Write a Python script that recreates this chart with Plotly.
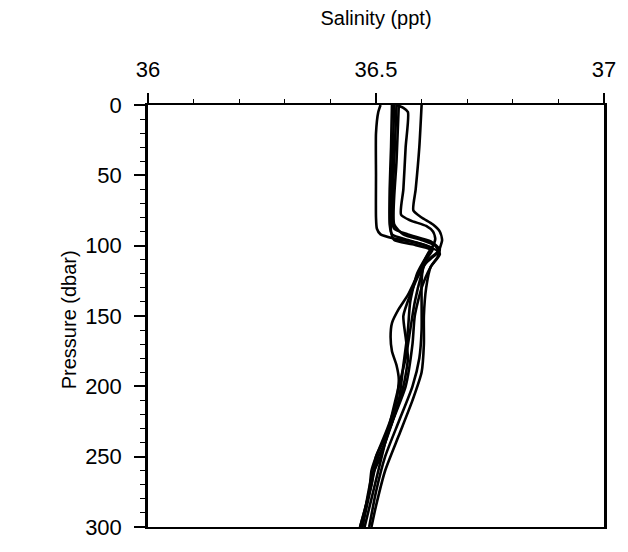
import plotly.graph_objects as go

# Salinity profiles (pressure in dbar, salinity in ppt)
p1 = [0, 5, 20, 50, 80, 88, 92, 95, 98, 102, 110, 120, 140, 160, 180, 200, 220, 240, 260, 280, 300]
s1 = [36.51, 36.505, 36.50, 36.50, 36.50, 36.502, 36.51, 36.54, 36.59, 36.625, 36.61, 36.60, 36.585, 36.575, 36.565, 36.55, 36.535, 36.52, 36.505, 36.49, 36.475]

p2 = [0, 30, 60, 85, 92, 96, 100, 104, 110, 120, 135, 150, 165, 180, 200, 230, 250, 270, 300]
s2 = [36.535, 36.533, 36.53, 36.53, 36.535, 36.57, 36.61, 36.635, 36.615, 36.595, 36.575, 36.56, 36.565, 36.57, 36.56, 36.53, 36.50, 36.49, 36.465]

p3 = [0, 40, 80, 88, 92, 97, 103, 108, 115, 125, 135, 145, 155, 165, 175, 185, 195, 210, 230, 250, 260, 275, 300]
s3 = [36.545, 36.54, 36.535, 36.54, 36.57, 36.62, 36.64, 36.625, 36.60, 36.585, 36.57, 36.55, 36.535, 36.532, 36.535, 36.545, 36.55, 36.545, 36.525, 36.50, 36.49, 36.485, 36.465]

p4 = [0, 2, 5, 30, 60, 78, 82, 86, 90, 95, 100, 105, 112, 125, 140, 160, 180, 200, 225, 250, 275, 300]
s4 = [36.545, 36.56, 36.57, 36.565, 36.56, 36.555, 36.575, 36.61, 36.625, 36.63, 36.625, 36.615, 36.605, 36.60, 36.60, 36.60, 36.595, 36.58, 36.55, 36.52, 36.50, 36.485]

p5 = [0, 30, 60, 75, 80, 85, 90, 96, 102, 108, 115, 130, 150, 170, 190, 210, 235, 260, 285, 300]
s5 = [36.60, 36.595, 36.587, 36.582, 36.60, 36.625, 36.64, 36.645, 36.64, 36.635, 36.62, 36.61, 36.605, 36.605, 36.60, 36.58, 36.55, 36.52, 36.50, 36.49]

p6 = [0, 40, 85, 92, 96, 100, 106, 115, 130, 150, 170, 200, 230, 250, 265, 300]
s6 = [36.55, 36.545, 36.54, 36.56, 36.60, 36.63, 36.64, 36.62, 36.60, 36.585, 36.58, 36.565, 36.53, 36.51, 36.49, 36.47]

p7 = [0, 50, 90, 96, 99, 103, 108, 120, 140, 160, 185, 210, 240, 250, 255, 270, 300]
s7 = [36.54, 36.535, 36.533, 36.54, 36.58, 36.62, 36.61, 36.59, 36.575, 36.57, 36.56, 36.55, 36.52, 36.505, 36.50, 36.49, 36.47]

profiles = [(s1, p1), (s2, p2), (s3, p3), (s4, p4), (s5, p5), (s6, p6), (s7, p7)]

x_ticks = [36, 36.5, 37]
y_ticks = [0, 50, 100, 150, 200, 250, 300]

FONT = "Liberation Sans, Arial, Helvetica, sans-serif"

fig = go.Figure()
for s, p in profiles:
    fig.add_trace(go.Scatter(x=s, y=p, mode="lines",
                             line=dict(color="black", width=2.6, shape="spline", smoothing=0.6),
                             showlegend=False, hoverinfo="skip"))

fig.update_layout(
    width=628, height=552,
    margin=dict(l=148, r=18, t=105, b=17),
    paper_bgcolor="white", plot_bgcolor="white",
    font=dict(family=FONT, color="black"),
    xaxis=dict(
        side="top", range=[36, 37], tickvals=x_ticks, ticktext=["36", "36.5", "37"],
        ticks="outside", ticklen=10, tickwidth=1.5, tickcolor="black",
        minor=dict(dtick=0.1, ticks="outside", ticklen=4, tickwidth=1, tickcolor="black", showgrid=False),
        showline=True, linecolor="black", linewidth=2, mirror=True,
        showgrid=False, zeroline=False,
        tickfont=dict(size=22, family=FONT),
        ticklabelstandoff=7,
        title=dict(text="Salinity (ppt)", font=dict(size=20, family=FONT), standoff=26),
    ),
    yaxis=dict(
        range=[300, 0], tickvals=y_ticks,
        ticks="outside", ticklen=11, tickwidth=1.5, tickcolor="black",
        minor=dict(dtick=10, ticks="outside", ticklen=5, tickwidth=1, tickcolor="black", showgrid=False),
        showline=True, linecolor="black", linewidth=2.5, mirror=True,
        showgrid=False, zeroline=False,
        tickfont=dict(size=22, family=FONT),
        ticklabelstandoff=8,
    ),
    annotations=[dict(
        text="Pressure (dbar)", xref="paper", yref="paper",
        x=-80 / 462, y=0.49, xanchor="center", yanchor="middle",
        textangle=-90, showarrow=False, font=dict(size=20, family=FONT),
    )],
)

fig.write_html("out.html")
